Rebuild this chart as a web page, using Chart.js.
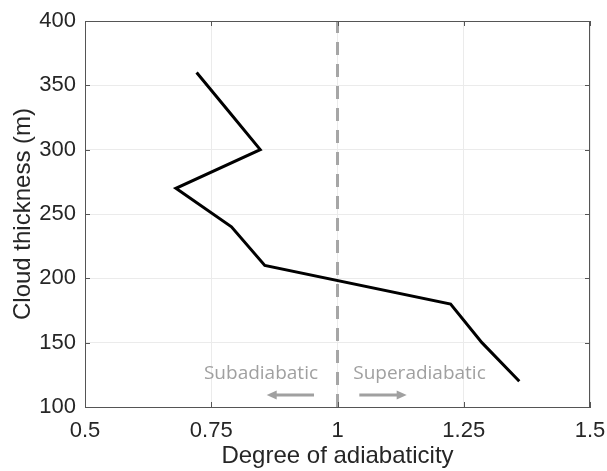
<!DOCTYPE html>
<html>
<head>
<meta charset="utf-8">
<script src="https://cdn.jsdelivr.net/npm/chart.js@4.4.1/dist/chart.umd.min.js"></script>
<style>
  html, body { margin: 0; padding: 0; background: #fff; }
  #wrap { width: 607px; height: 471px; position: relative; }
</style>
</head>
<body>
<div id="wrap"><canvas id="chart"></canvas></div>
<script>
/* Degree of adiabaticity vs cloud thickness */

const thickness = [360, 330, 300, 270, 240, 210, 180, 150, 120];
const adiabaticity = [0.721, 0.784, 0.847, 0.68, 0.79, 0.856, 1.224, 1.286, 1.36];

// adiabatic reference (x = 1)
const refX = [1, 1];
const refY = [100, 400];

const xTicks = [0.5, 0.75, 1, 1.25, 1.5];
const yTicks = [100, 150, 200, 250, 300, 350, 400];

// annotations in data units
const noteText = ["Subadiabatic", "Superadiabatic"];
const noteX = [0.8485, 1.1624];
const noteY = [122, 122];
const arrowFrom = [0.9535, 1.0432];
const arrowTo = [0.8598, 1.137];
const arrowY = [109.4, 109.4];

const AXIS = "#555555";
const TEXT = "#262626";
const NOTE = "#a0a0a0";

const boxPlugin = {
  id: "box",
  afterDraw(chart) {
    const { ctx, chartArea: a, scales: { x, y } } = chart;
    ctx.save();
    // top and right border
    ctx.strokeStyle = AXIS;
    ctx.lineWidth = 1;
    ctx.beginPath();
    ctx.moveTo(a.left, a.top + 0.5); ctx.lineTo(a.right, a.top + 0.5);
    ctx.moveTo(a.right - 0.5, a.top); ctx.lineTo(a.right - 0.5, a.bottom);
    ctx.stroke();
    // inward ticks
    ctx.beginPath();
    xTicks.forEach(v => {
      const px = Math.round(x.getPixelForValue(v)) + 0.5;
      ctx.moveTo(px, a.bottom); ctx.lineTo(px, a.bottom - 5);
      ctx.moveTo(px, a.top); ctx.lineTo(px, a.top + 5);
    });
    yTicks.forEach(v => {
      const py = Math.round(y.getPixelForValue(v)) + 0.5;
      ctx.moveTo(a.left, py); ctx.lineTo(a.left + 5, py);
      ctx.moveTo(a.right, py); ctx.lineTo(a.right - 5, py);
    });
    ctx.stroke();

    // notes
    ctx.fillStyle = NOTE;
    ctx.font = "19px 'Open Sans'";
    ctx.textAlign = "center";
    ctx.textBaseline = "alphabetic";
    noteText.forEach((t, i) => {
      ctx.fillText(t, x.getPixelForValue(noteX[i]), y.getPixelForValue(noteY[i]));
    });

    // arrows
    ctx.strokeStyle = NOTE;
    ctx.lineWidth = 3;
    arrowFrom.forEach((f, i) => {
      const x0 = x.getPixelForValue(f), x1 = x.getPixelForValue(arrowTo[i]);
      const py = y.getPixelForValue(arrowY[i]);
      const dir = Math.sign(x1 - x0);
      ctx.beginPath();
      ctx.moveTo(x0, py); ctx.lineTo(x1 - dir * 8, py);
      ctx.stroke();
      ctx.beginPath();
      ctx.moveTo(x1, py);
      ctx.lineTo(x1 - dir * 10, py - 4.5);
      ctx.lineTo(x1 - dir * 10, py + 4.5);
      ctx.closePath();
      ctx.fill();
    });
    ctx.restore();
  }
};

const tickFont = { family: "'Liberation Sans', Arial, sans-serif", size: 22 };
const titleFont = { family: "'Liberation Sans', Arial, sans-serif", size: 24 };

new Chart(document.getElementById("chart"), {
  type: "line",
  data: {
    datasets: [
      {
        data: adiabaticity.map((v, i) => ({ x: v, y: thickness[i] })),
        borderColor: "#000",
        borderWidth: 3,
        pointRadius: 0,
        tension: 0,
        fill: false
      },
      {
        data: refX.map((v, i) => ({ x: v, y: refY[i] })),
        borderColor: "#a6a6a6",
        borderWidth: 3,
        borderDash: [13, 9],
        pointRadius: 0,
        fill: false
      }
    ]
  },
  options: {
    responsive: true,
    maintainAspectRatio: false,
    animation: false,
    layout: { padding: { left: 0, right: 17, top: 21, bottom: 0 } },
    plugins: { legend: { display: false }, tooltip: { enabled: false } },
    scales: {
      x: {
        type: "linear",
        min: 0.5, max: 1.5,
        afterBuildTicks: s => { s.ticks = xTicks.map(v => ({ value: v })); },
        afterFit: s => { s.height = 64; s.paddingLeft = 0; s.paddingRight = 0; },
        ticks: { color: TEXT, font: tickFont, padding: 11, maxRotation: 0, callback: v => String(v) },
        grid: { color: "#ebebeb", drawTicks: false },
        border: { color: AXIS, width: 1 },
        title: { display: true, text: "Degree of adiabaticity", color: TEXT, font: titleFont, padding: { top: 0, bottom: 0 } }
      },
      y: {
        min: 100, max: 400,
        afterBuildTicks: s => { s.ticks = yTicks.map(v => ({ value: v })); },
        afterFit: s => { s.width = 85; s.paddingTop = 0; s.paddingBottom = 0; },
        ticks: { color: TEXT, font: tickFont, padding: 9, callback: v => String(v) },
        grid: { color: "#ebebeb", drawTicks: false },
        border: { color: AXIS, width: 1 },
        title: { display: true, text: "Cloud thickness (m)", color: TEXT, font: titleFont, padding: { top: 9, bottom: 0 } }
      }
    }
  },
  plugins: [boxPlugin]
});
</script>
</body>
</html>
